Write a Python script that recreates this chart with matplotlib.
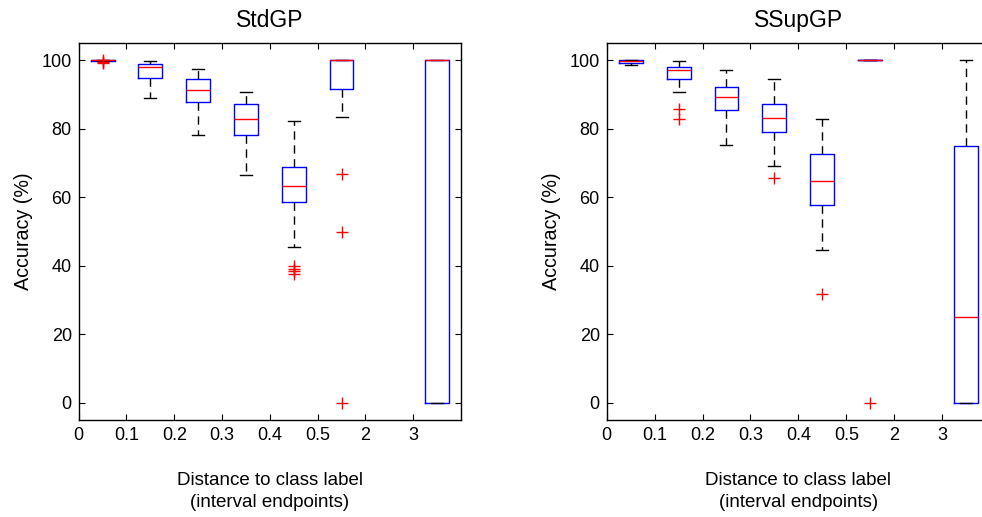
import matplotlib
matplotlib.use("Agg")
import matplotlib.pyplot as plt

# ---- data ----
tick_labels = ['0', '0.1', '0.2', '0.3', '0.4', '0.5', '2', '3']
titles = ['StdGP', 'SSupGP']

# StdGP (None = empty interval)
std_med = [100, 98.0, 91.3, 82.8, 63.4, 100, None, 100]
std_q1 = [99.8, 94.8, 87.9, 78.3, 58.6, 91.6, None, 0]
std_q3 = [100, 99.0, 94.5, 87.4, 68.8, 100, None, 100]
std_lo = [99.7, 88.9, 78.3, 66.6, 45.6, 83.4, None, 0]
std_hi = [100, 99.9, 97.6, 90.8, 82.2, 100, None, 100]
std_fliers = [[99.2, 99.5, 100], [], [], [], [40.0, 39.2, 38.4, 37.6], [66.7, 50.0, 0.0], None, []]

# SSupGP
ssup_med = [99.8, 97.1, 89.4, 83.1, 64.9, 100, None, 25]
ssup_q1 = [99.2, 94.7, 85.4, 79.1, 57.7, 100, None, 0]
ssup_q3 = [100, 98.2, 92.1, 87.2, 72.8, 100, None, 75]
ssup_lo = [98.8, 90.8, 75.3, 69.1, 44.5, 100, None, 0]
ssup_hi = [100, 99.8, 97.2, 94.5, 82.9, 100, None, 100]
ssup_fliers = [[], [85.9, 82.8], [], [65.8], [31.9], [0.0], None, []]

series = [
    (std_med, std_q1, std_q3, std_lo, std_hi, std_fliers),
    (ssup_med, ssup_q1, ssup_q3, ssup_lo, ssup_hi, ssup_fliers),
]

plt.rcParams['font.family'] = ['Liberation Sans', 'DejaVu Sans']

W, H = 982, 517
fig = plt.figure(figsize=(W / 100, H / 100), dpi=100)

axes_px = [(78.7, 461.0), (606.7, 990.0)]
top_px, bot_px = 43.3, 420.0

for k, (med, q1, q3, lo, hi, fl) in enumerate(series):
    l, r = axes_px[k]
    ax = fig.add_axes([l / W, 1 - bot_px / H, (r - l) / W, (bot_px - top_px) / H])
    stats, pos = [], []
    for i in range(len(tick_labels)):
        if med[i] is None:
            continue
        stats.append(dict(med=med[i], q1=q1[i], q3=q3[i], whislo=lo[i],
                          whishi=hi[i], fliers=fl[i]))
        pos.append(i + 0.5)
    ax.bxp(stats, positions=pos, widths=0.5, showfliers=True,
           boxprops=dict(color='#0000ff', linewidth=1.0),
           medianprops=dict(color='#ff0000', linewidth=1.0),
           whiskerprops=dict(color='black', linewidth=1.0, linestyle=(0, (6, 4))),
           capprops=dict(color='black', linewidth=1.0),
           capwidths=0.25,
           flierprops=dict(marker='+', markeredgecolor='#ff0000',
                           markersize=8, markeredgewidth=1.0, linestyle='none'))
    ax.set_xlim(0, 8)
    ax.set_ylim(-5, 105)
    ax.set_xticks(range(len(tick_labels)))
    ax.set_xticklabels(tick_labels)
    ax.set_yticks([0, 20, 40, 60, 80, 100])
    ax.tick_params(direction='in', top=True, right=True, length=4,
                   labelsize=13, width=0.8, pad=5)
    for s in ax.spines.values():
        s.set_linewidth(1.0)
    ax.set_title(titles[k], fontsize=16.5, pad=12)
    ax.set_xlabel('Distance to class label\n(interval endpoints)', fontsize=13.5,
                  labelpad=20, linespacing=1.4)
    ax.set_ylabel('Accuracy (%)', fontsize=14.2, labelpad=6)

fig.savefig('out.png', dpi=100)
